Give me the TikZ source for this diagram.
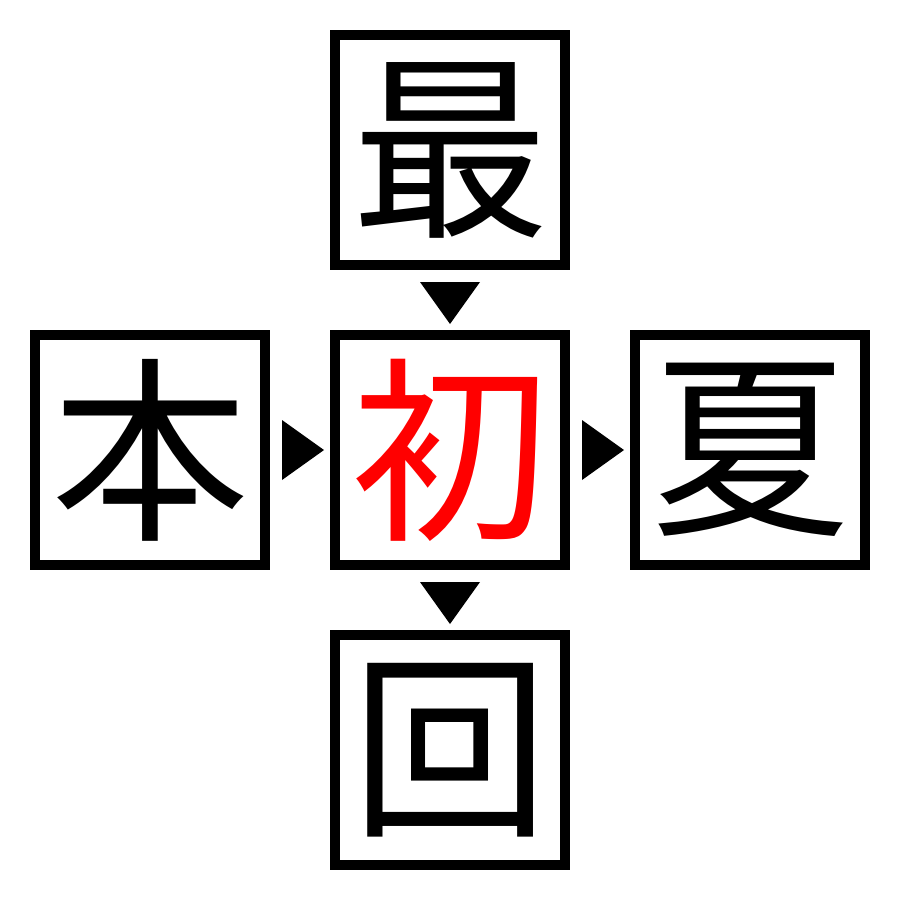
\documentclass[tikz,border=0pt]{standalone}
\usepackage{fontspec}
\newfontfamily\cjk{Noto Sans CJK JP}
\usetikzlibrary{calc}
\tikzset{
  charbox/.style={draw=black, line width=10pt, minimum width=230pt, minimum height=230pt, inner sep=0pt, outer sep=5pt, font=\cjk\fontsize{198pt}{198pt}\selectfont},
  tri/.style={fill=black, draw=none}
}
\begin{document}
\begin{tikzpicture}[x=1pt,y=-1pt]
\useasboundingbox[fill=white] (0,0) rectangle (900,900);
\node[charbox] (top) at (450,150) {\makebox[0pt]{最}};
\node[charbox] (left) at (150,450) {\makebox[0pt]{本}};
\node[charbox, text=red] (mid) at (450,450) {\makebox[0pt]{初}};
\node[charbox] (right) at (750,450) {\makebox[0pt]{夏}};
\node[charbox] (bot) at (450,750) {\makebox[0pt]{回}};
% triangles
\coordinate (t1) at ($(top.south)!0.5!(mid.north)$);
\coordinate (t2) at ($(left.east)!0.5!(mid.west)$);
\coordinate (t3) at ($(mid.east)!0.5!(right.west)$);
\coordinate (t4) at ($(mid.south)!0.5!(bot.north)$);
\fill[tri] ($(t1)+(-30,-18)$) -- ($(t1)+(30,-18)$) -- ($(t1)+(0,24)$) -- cycle;
\fill[tri] ($(t4)+(-30,-18)$) -- ($(t4)+(30,-18)$) -- ($(t4)+(0,24)$) -- cycle;
\fill[tri] ($(t2)+(-18,-30)$) -- ($(t2)+(-18,30)$) -- ($(t2)+(24,0)$) -- cycle;
\fill[tri] ($(t3)+(-18,-30)$) -- ($(t3)+(-18,30)$) -- ($(t3)+(24,0)$) -- cycle;
\end{tikzpicture}
\end{document}
